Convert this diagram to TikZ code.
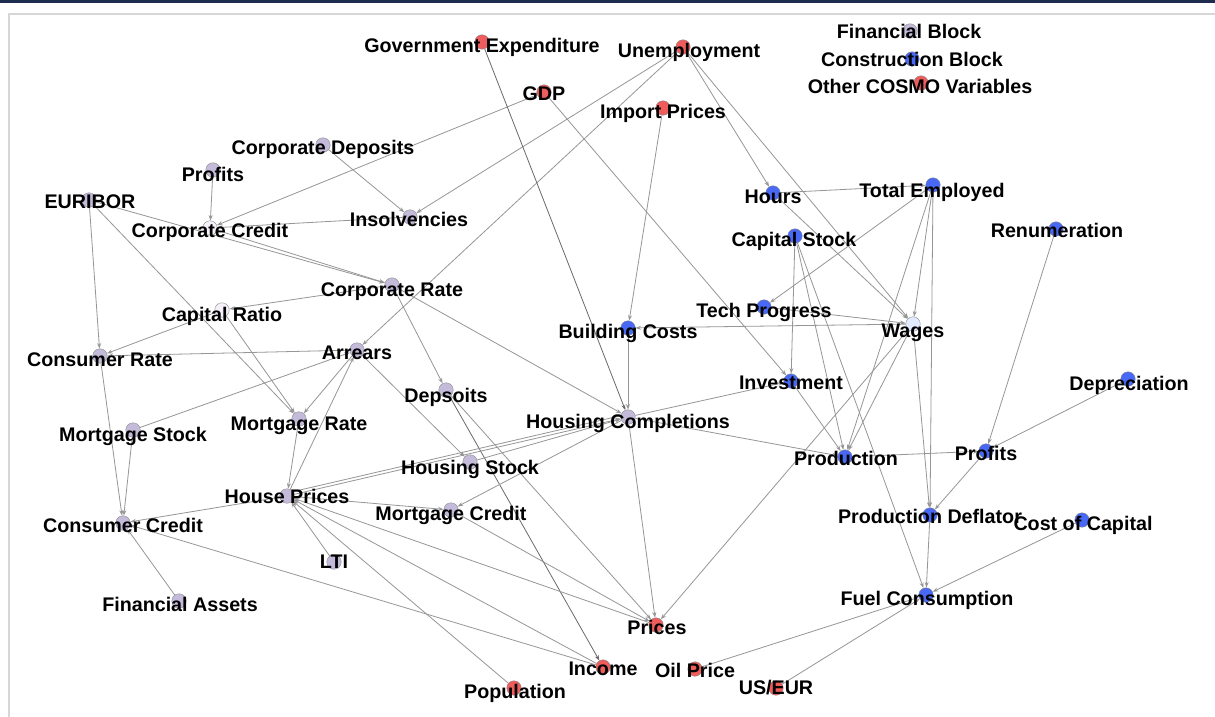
\documentclass[tikz,border=0pt]{standalone}
\usepackage{fontspec}
\setmainfont{Liberation Sans}
\usetikzlibrary{arrows.meta,backgrounds}
\definecolor{lavc}{RGB}{196,186,218}
\definecolor{bluec}{RGB}{72,105,245}
\definecolor{redc}{RGB}{238,92,92}
\definecolor{palec}{RGB}{246,240,250}
\definecolor{paleb}{RGB}{226,234,255}
\definecolor{edgec}{RGB}{150,150,150}
\definecolor{edged}{RGB}{105,105,105}
\definecolor{navyc}{RGB}{30,44,78}
\definecolor{framec}{RGB}{215,215,215}
\tikzset{
 vtx/.style={circle, draw=black!45, line width=0.4pt, minimum size=14.5pt, inner sep=0pt},
 lav/.style={vtx, fill=lavc},
 blu/.style={vtx, fill=bluec},
 rd/.style={vtx, fill=redc},
 pal/.style={vtx, fill=palec},
 palb/.style={vtx, fill=paleb},
 lbl/.style={font=\fontsize{19.7}{21}\selectfont\bfseries, inner sep=0pt, anchor=base, text=black},
 edg/.style={draw=edgec, line width=0.8pt, -{Stealth[length=5.5pt,width=4pt]}},
 edgdark/.style={edg, draw=edged}
}
\begin{document}
\begin{tikzpicture}[x=1pt,y=-1pt]
\useasboundingbox (0,0) rectangle (1215,717);
% circles
\node[rd]  (ge)  at (482,42) {};
\node[rd]  (un)  at (683,47) {};
\node[rd]  (gdp) at (544,92) {};
\node[rd]  (ip)  at (663,108) {};
\node[lav] (fb)  at (910,31) {};
\node[blu] (cb)  at (912,59) {};
\node[rd]  (oc)  at (921,83) {};
\node[lav] (cd)  at (323,145) {};
\node[lav] (pf)  at (213,170) {};
\node[lav] (eu)  at (89,200) {};
\node[pal] (cc)  at (210,228) {};
\node[lav] (ins) at (410,217) {};
\node[blu] (hr)  at (773,193) {};
\node[blu] (te)  at (933,185) {};
\node[blu] (cs)  at (795,236) {};
\node[blu] (rn)  at (1056,229) {};
\node[lav] (cr)  at (392,285) {};
\node[pal] (cap) at (222,310) {};
\node[blu] (tp)  at (764,307) {};
\node[blu] (bc)  at (628,328) {};
\node[palb] (wg) at (913,324) {};
\node[lav] (conr) at (100,356) {};
\node[lav] (ar)  at (357,350) {};
\node[blu] (inv) at (791,381) {};
\node[blu] (dep) at (1128,379) {};
\node[lav] (ds)  at (446,390) {};
\node[lav] (ms)  at (133,430) {};
\node[lav] (mr)  at (299,419) {};
\node[lav] (hc)  at (628,417) {};
\node[blu] (pr)  at (845,457) {};
\node[blu] (pfc) at (986,451) {};
\node[lav] (hs)  at (470,462) {};
\node[lav] (hp)  at (287,496) {};
\node[lav] (mc)  at (451,510) {};
\node[lav] (ccr) at (123,523) {};
\node[blu] (pd)  at (930,515) {};
\node[blu] (coc) at (1082,520) {};
\node[lav] (lti) at (334,562) {};
\node[lav] (fa)  at (179,601) {};
\node[blu] (fc)  at (926,595) {};
\node[rd]  (pri) at (656,625) {};
\node[rd]  (inc) at (603,667) {};
\node[rd]  (oil) at (695,669) {};
\node[rd]  (usd) at (776,688) {};
\node[rd]  (pop) at (514,688) {};
% labels
\node[lbl] (ge-l)  at (482,52.5) {Government Expenditure};
\node[lbl] (un-l)  at (689,57.5) {Unemployment};
\node[lbl] (gdp-l) at (544,100.5) {GDP};
\node[lbl] (ip-l)  at (663,118.5) {Import Prices};
\node[lbl] (fb-l)  at (909,38.5) {Financial Block};
\node[lbl] (cb-l)  at (912,66.5) {Construction Block};
\node[lbl] (oc-l)  at (920,93.5) {Other COSMO Variables};
\node[lbl] (cd-l)  at (323,154.5) {Corporate Deposits};
\node[lbl] (pf-l)  at (213,181.5) {Profits};
\node[lbl] (eu-l)  at (90,208.5) {EURIBOR};
\node[lbl] (cc-l)  at (210,237.5) {Corporate Credit};
\node[lbl] (ins-l) at (409,226.5) {Insolvencies};
\node[lbl] (hr-l)  at (773,203.5) {Hours};
\node[lbl] (te-l)  at (932,197.5) {Total Employed};
\node[lbl] (cs-l)  at (794,246.5) {Capital Stock};
\node[lbl] (rn-l)  at (1057,237.5) {Renumeration};
\node[lbl] (cr-l)  at (392,296.5) {Corporate Rate};
\node[lbl] (cap-l) at (222,321.5) {Capital Ratio};
\node[lbl] (tp-l)  at (764,317.5) {Tech Progress};
\node[lbl] (bc-l)  at (628,338.5) {Building Costs};
\node[lbl] (wg-l)  at (913,337.5) {Wages};
\node[lbl] (conr-l) at (100,366.5) {Consumer Rate};
\node[lbl] (ar-l)  at (357,359.5) {Arrears};
\node[lbl] (inv-l) at (791,389.5) {Investment};
\node[lbl] (dep-l) at (1129,390.5) {Depreciation};
\node[lbl] (ds-l)  at (446,402.5) {Depsoits};
\node[lbl] (ms-l)  at (133,441.5) {Mortgage Stock};
\node[lbl] (mr-l)  at (299,430.5) {Mortgage Rate};
\node[lbl] (hc-l)  at (628,428.5) {Housing Completions};
\node[lbl] (pr-l)  at (846,465.5) {Production};
\node[lbl] (pfc-l) at (986,460.5) {Profits};
\node[lbl] (hs-l)  at (470,474.5) {Housing Stock};
\node[lbl] (hp-l)  at (287,503.5) {House Prices};
\node[lbl] (mc-l)  at (451,520.5) {Mortgage Credit};
\node[lbl] (ccr-l) at (123,532.5) {Consumer Credit};
\node[lbl] (pd-l)  at (930,523.5) {Production Deflator};
\node[lbl] (coc-l) at (1083,530.5) {Cost of Capital};
\node[lbl] (lti-l) at (334,568.5) {LTI};
\node[lbl] (fa-l)  at (180,611.5) {Financial Assets};
\node[lbl] (fc-l)  at (927,605.5) {Fuel Consumption};
\node[lbl] (pri-l) at (657,634.5) {Prices};
\node[lbl] (inc-l) at (603,675.5) {Income};
\node[lbl] (oil-l) at (695,677.5) {Oil Price};
\node[lbl] (usd-l) at (776,694.5) {US/EUR};
\node[lbl] (pop-l) at (515,698.5) {Population};
\begin{scope}[on background layer]
\fill[white] (0,0) rectangle (1215,717);
\fill[navyc] (0,0) rectangle (1215,3);
\draw[framec, line width=2pt] (9,717) -- (9,14) -- (1215,14);
% edges
\draw[edg] (pf) -- (cc);
\draw[edg] (gdp) -- (cc);
\draw[edg] (cd) -- (ins);
\draw[edg] (un) -- (ins);
\draw[edg] (un) -- (ar);
\draw[edg] (ins) -- (cc);
\draw[edg] (eu) -- (cr);
\draw[edg] (cc) -- (cr);
\draw[edg] (eu) -- (conr);
\draw[edg] (eu) -- (mr);
\draw[edg] (cap) -- (mr);
\draw[edg] (cr) -- (cap);
\draw[edg] (cap) -- (conr);
\draw[edg] (ar) -- (conr);
\draw[edg] (ms) -- (ar);
\draw[edg] (ar) -- (mr);
\draw[edg] (hp) -- (ar);
\draw[edg] (mr) -- (hp);
\draw[edg] (ar) -- (hs);
\draw[edg] (cr) -- (ds);
\draw[edg] (cr) -- (hc);
\draw[edg] (un) -- (hr);
\draw[edg] (un) -- (wg);
\draw[edgdark] (ge) -- (hc);
\draw[edg] (gdp) -- (inv);
\draw[edg] (ip) -- (bc);
\draw[edg] (hr) -- (te);
\draw[edg] (hr) -- (wg);
\draw[edg] (te) -- (tp);
\draw[edg] (tp) -- (wg);
\draw[edg] (wg) -- (bc);
\draw[edg] (cs) -- (inv);
\draw[edg] (cs) -- (fc);
\draw[edg] (cs) -- (pr);
\draw[edg] (te) -- (wg);
\draw[edg] (te) -- (pr);
\draw[edg] (te) -- (pd);
\draw[edg] (wg) -- (pr);
\draw[edg] (wg) -- (pri);
\draw[edg] (wg) -- (pd);
\draw[edg] (inv) -- (pr);
\draw[edg] (hc) -- (inv);
\draw[edg] (hc) -- (pr);
\draw[edg] (pr) -- (pfc);
\draw[edg] (rn) -- (pfc);
\draw[edg] (dep) -- (pfc);
\draw[edg] (pfc) -- (pd);
\draw[edg] (pd) -- (fc);
\draw[edg] (coc) -- (fc);
\draw[edg] (oil) -- (fc);
\draw[edg] (usd) -- (fc);
\draw[edg] (hc) -- (pri);
\draw[edg] (ds) -- (pri);
\draw[edgdark] (ds) -- (inc);
\draw[edg] (bc) -- (hc);
\draw[edg] (hp) -- (hc);
\draw[edg] ([yshift=3pt]hc.center) -- ([yshift=3pt]hp.center);
\draw[edg] (hs) -- (hc);
\draw[edg] (hc) -- (mc);
\draw[edg] (hp) -- (mc);
\draw[edg] (mc) -- (pri);
\draw[edg] (hp) -- (ccr);
\draw[edg] (lti) -- (hp);
\draw[edg] (pop) -- (hp);
\draw[edg] (inc) -- (hp);
\draw[edg] (pri) -- (hp);
\draw[edg] (inc) -- (ccr);
\draw[edg] (ms) -- (ccr);
\draw[edg] (conr) -- (ccr);
\draw[edg] (fa) -- (ccr);
\end{scope}
\end{tikzpicture}
\end{document}
